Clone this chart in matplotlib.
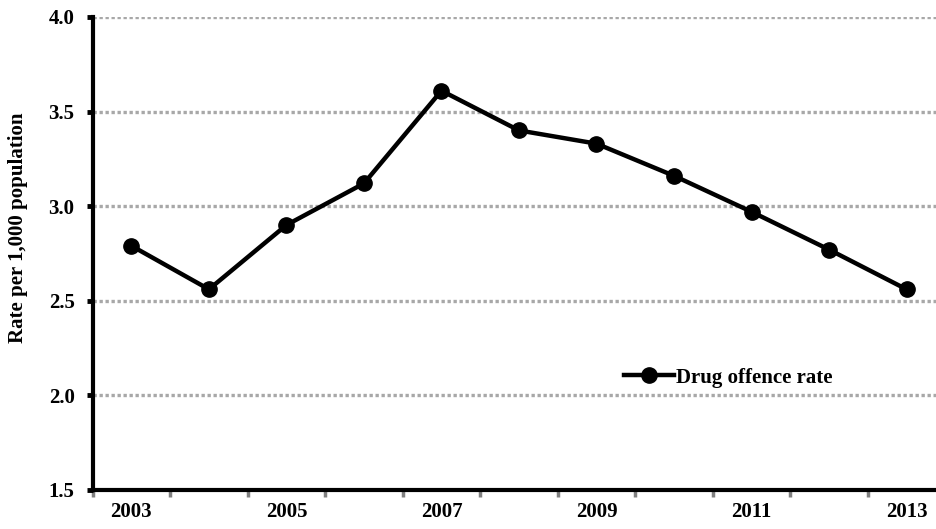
import numpy as np
import matplotlib.pyplot as plt
from matplotlib.ticker import FixedLocator

# --- Data ---
years = [2003, 2004, 2005, 2006, 2007, 2008, 2009, 2010, 2011, 2012, 2013]
drug_rate = [2.79, 2.56, 2.90, 3.12, 3.61, 3.40, 3.33, 3.16, 2.97, 2.77, 2.56]
label_years = [2003, 2005, 2007, 2009, 2011, 2013]
y_ticks = [1.5, 2.0, 2.5, 3.0, 3.5, 4.0]

plt.rcParams['font.family'] = ['Liberation Serif', 'DejaVu Serif']
plt.rcParams['font.weight'] = 'bold'

fig = plt.figure(figsize=(9.36, 5.29), dpi=100)
ax = fig.add_axes([0.099, 0.074, 0.901, 0.894])

# --- gridlines ---
for y in y_ticks[1:]:
    ax.axhline(y, color="#a8a8a8", linestyle=(0, (1, 0.8)), linewidth=2.4, zorder=1)

ax.plot(years, drug_rate, color="black", linewidth=3.2, marker="o", markersize=11,
        label="Drug offence rate", zorder=3)

ax.set_xlim(2002.5, 2013.38)
ax.set_ylim(1.5, 4.0)

# --- axes styling ---
for s in ["top", "right"]:
    ax.spines[s].set_visible(False)
for s in ["left", "bottom"]:
    ax.spines[s].set_linewidth(3)
    ax.spines[s].set_color("black")

ax.set_yticks(y_ticks)
ax.set_yticklabels([f"{v:.1f}" for v in y_ticks], fontsize=15, fontweight="bold")
ax.tick_params(axis="y", direction="out", length=4, width=3.5, pad=9)

ax.set_xticks(label_years)
ax.set_xticklabels([str(y) for y in label_years], fontsize=15, fontweight="bold")
ax.tick_params(axis="x", which="major", length=0, pad=9)
ax.xaxis.set_minor_locator(FixedLocator(np.arange(2002.5, 2013.0, 1.0)))
ax.tick_params(axis="x", which="minor", direction="out", length=5, width=2.5, color="#808080")

ax.set_ylabel("Rate per 1,000 population", fontsize=15, fontweight="bold")
ax.yaxis.set_label_coords(-0.077, 0.554)

ax.legend(loc="center left", bbox_to_anchor=(0.630, 0.237), frameon=False,
          fontsize=15, handlelength=2.4, handletextpad=0.1, borderpad=0, borderaxespad=0)

plt.savefig("out.png", dpi=100)
